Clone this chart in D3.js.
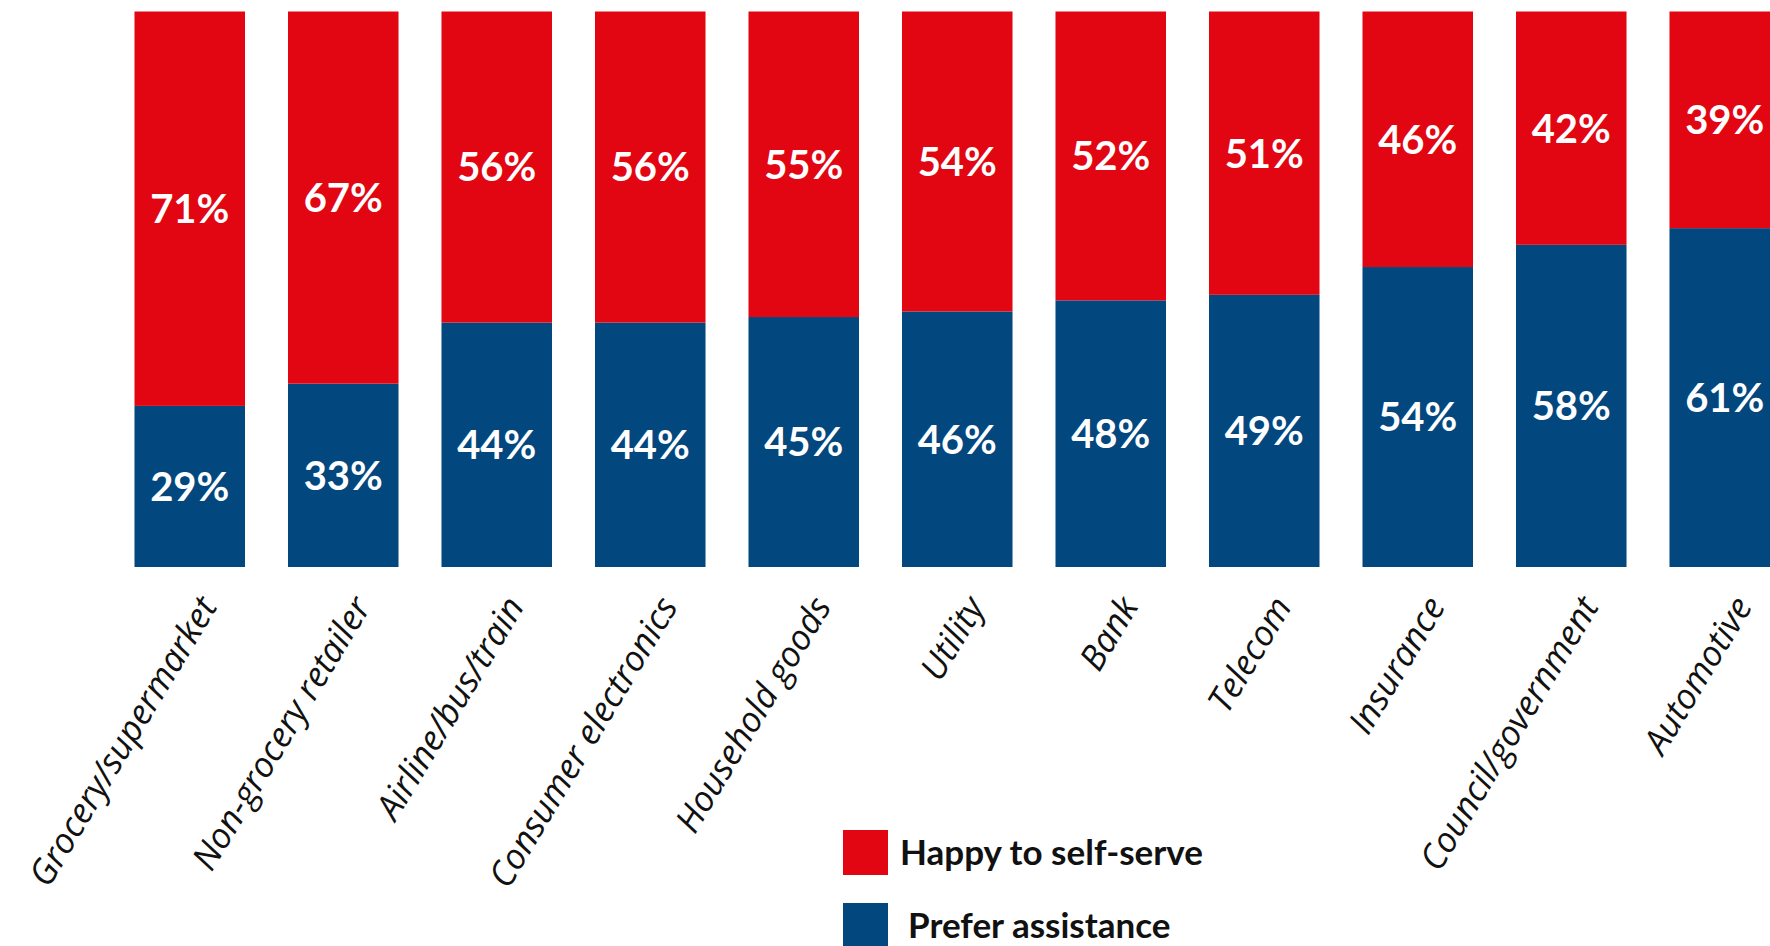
<!DOCTYPE html>
<html lang="en">
<head>
  <title>Self-serve vs assistance</title>
  <meta charset="utf-8">
  <script src="https://d3js.org/d3.v7.min.js" charset="utf-8"></script>
  <style>
    body { margin: 0; background: #fff; }
  </style>
</head>
<body>
  <script>
    var categories = ["Grocery/supermarket", "Non-grocery retailer", "Airline/bus/train",
      "Consumer electronics", "Household goods", "Utility", "Bank", "Telecom",
      "Insurance", "Council/government", "Automotive"];
    var selfServe = [71, 67, 56, 56, 55, 54, 52, 51, 46, 42, 39];
    var assistance = [29, 33, 44, 44, 45, 46, 48, 49, 54, 58, 61];
    var seriesNames = ["Happy to self-serve", "Prefer assistance"];
    var seriesColors = ["#e20613", "#03477f"];

    var w = 1770;
    var h = 946;

    // rows for d3.stack, assistance at the bottom
    var rows = categories.map(function(c, i) {
      return { cat: c, assist: assistance[i], self: selfServe[i] };
    });
    var stack = d3.stack().keys(["assist", "self"]);
    var layers = stack(rows);

    var xScale = d3.scaleBand()
      .domain(categories)
      .range([113, 113 + 11 * 153.5])
      .paddingInner(0.28)
      .paddingOuter(0.14);

    var yScale = d3.scaleLinear()
      .domain([0, 100])
      .range([567, 11.5]);

    var colorOf = { assist: seriesColors[1], self: seriesColors[0] };

    var svg = d3.select("body")
      .append("svg")
      .attr("width", w)
      .attr("height", h);

    var groups = svg.selectAll("g.layer")
      .data(layers)
      .enter()
      .append("g")
      .attr("class", "layer")
      .attr("fill", function(d) { return colorOf[d.key]; });

    groups.selectAll("rect")
      .data(function(d) { return d; })
      .enter()
      .append("rect")
      .attr("x", function(d) { return xScale(d.data.cat); })
      .attr("y", function(d) { return yScale(d[1]); })
      .attr("width", xScale.bandwidth())
      .attr("height", function(d) { return yScale(d[0]) - yScale(d[1]); });

    // value labels in the middle of each segment
    groups.selectAll("text")
      .data(function(d) { return d; })
      .enter()
      .append("text")
      .attr("x", function(d) { return xScale(d.data.cat) + xScale.bandwidth() / 2; })
      .attr("y", function(d) { return yScale((d[0] + d[1]) / 2); })
      .attr("dy", "0.36em")
      .attr("text-anchor", "middle")
      .attr("fill", "#fff")
      .style("font-family", "Lato, sans-serif")
      .style("font-weight", "bold")
      .style("font-size", "40px")
      .text(function(d) { return (d[1] - d[0]) + "%"; });

    // rotated category labels
    svg.selectAll("text.cat")
      .data(categories)
      .enter()
      .append("text")
      .attr("class", "cat")
      .attr("text-anchor", "end")
      .attr("dy", "0.35em")
      .attr("transform", function(d) {
        var cx = xScale(d) + xScale.bandwidth() / 2 + 18;
        return "translate(" + cx + ",600) rotate(-59)";
      })
      .attr("fill", "#111")
      .style("font-family", "'Open Sans', sans-serif")
      .style("font-style", "italic")
      .style("font-size", "35px")
      .text(function(d) { return d; });

    // legend
    var legend = svg.selectAll("g.legend")
      .data(seriesNames)
      .enter()
      .append("g")
      .attr("class", "legend")
      .attr("transform", function(d, i) { return "translate(843," + (830 + i * 73) + ")"; });

    legend.append("rect")
      .attr("width", 45)
      .attr("height", 45)
      .attr("fill", function(d, i) { return seriesColors[i]; });

    legend.append("text")
      .attr("x", function(d, i) { return i == 0 ? 57 : 65; })
      .attr("y", 35)
      .attr("fill", "#111")
      .style("font-family", "Lato, sans-serif")
      .style("font-weight", "bold")
      .style("font-size", "35px")
      .text(function(d) { return d; });
  </script>
</body>
</html>
